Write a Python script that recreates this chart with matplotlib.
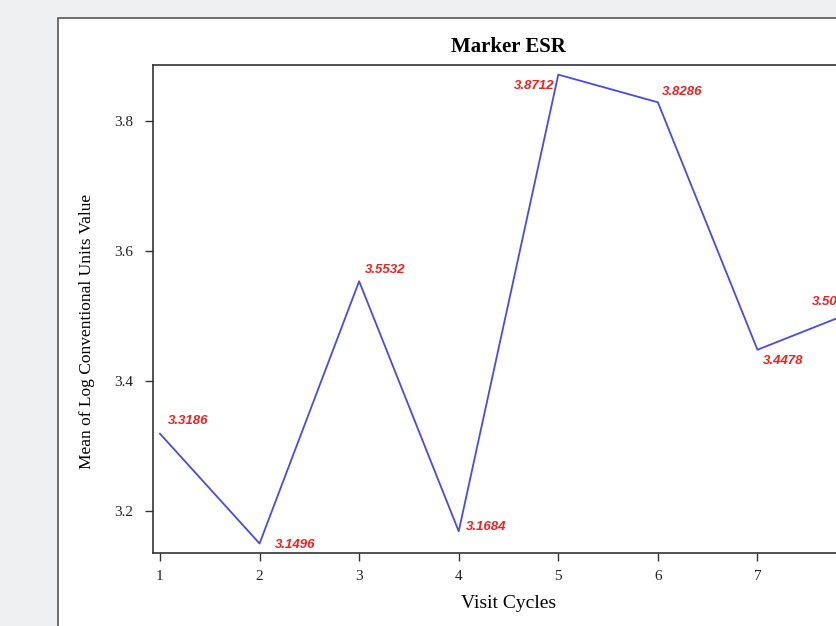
import matplotlib.pyplot as plt
from matplotlib.patches import Rectangle

# data
visits = [1, 2, 3, 4, 5, 6, 7, 8]
means = [3.3186, 3.1496, 3.5532, 3.1684, 3.8712, 3.8286, 3.4478, 3.5085]
labels = ['3.3186', '3.1496', '3.5532', '3.1684', '3.8712', '3.8286', '3.4478', '3.5085']
yticks = [3.2, 3.4, 3.6, 3.8]
xticks = [1, 2, 3, 4, 5, 6, 7, 8]

# label offsets in points (dx, dy, ha, va)
offsets = [(6, 5, 'left', 'bottom'), (11, -1, 'left', 'center'), (4, 4, 'left', 'bottom'),
           (5, 3, 'left', 'center'), (-3, -8, 'right', 'center'), (3, 3, 'left', 'bottom'),
           (4, -4, 'left', 'top'), (-3, 2, 'right', 'bottom')]

W, H = 837, 626
fig = plt.figure(figsize=(W / 100, H / 100), dpi=100)
fig.patch.set_facecolor('#eff0f2')

# white panel of the screenshot
fig.patches.append(Rectangle((58 / W, -0.1), 1, 1.1 - 18 / H, transform=fig.transFigure,
                             facecolor='white', edgecolor='#555555', linewidth=1.2, zorder=-5))
# cut-off heading above the panel
fig.text(650 / W, 1 + 9 / H, 'g', fontsize=28, fontweight='bold', color='#333333',
         va='baseline', ha='center', family='DejaVu Sans')

ax = fig.add_axes([153 / W, 1 - 553 / H, 711 / W, 488 / H])
ax.set_facecolor('white')
ax.plot(visits, means, color='#4a4ae6', linewidth=1.3, clip_on=False)

for x, y, lab, (dx, dy, ha, va) in zip(visits, means, labels, offsets):
    ax.annotate(lab, (x, y), xytext=(dx, dy), textcoords='offset points', ha=ha, va=va,
                color='#ee2222', fontsize=9.5, fontweight='bold', fontstyle='italic',
                family='Liberation Sans')

ax.set_xlim(0.93, 8.07)
ax.set_ylim(3.135, 3.886)
ax.set_xticks(xticks)
ax.set_yticks(yticks)
ax.set_xticklabels([str(v) for v in xticks], family='Liberation Serif', fontsize=11)
ax.set_yticklabels([f'{v:.1f}' for v in yticks], family='Liberation Serif', fontsize=11)
ax.tick_params(direction='out', length=6, width=1, color='#333333', labelcolor='#222222', pad=6)
ax.tick_params(axis='y', pad=8)
for s in ax.spines.values():
    s.set_color('#333333')
    s.set_linewidth(1.2)

ax.set_title('Marker ESR', family='Liberation Serif', fontweight='bold', fontsize=15, pad=9)
ax.set_xlabel('Visit Cycles', family='Liberation Serif', fontsize=14, labelpad=9)
ax.set_ylabel('Mean of Log Conventional Units Value', family='Liberation Serif', fontsize=12.5)
ax.yaxis.set_label_coords(-0.081, 0.453)

fig.savefig('out.png', dpi=100, facecolor=fig.get_facecolor())
